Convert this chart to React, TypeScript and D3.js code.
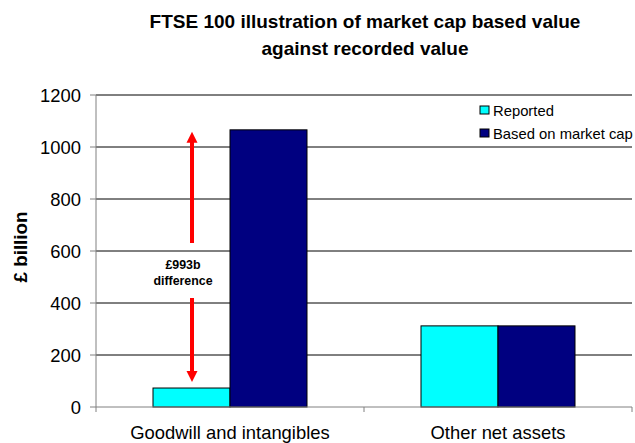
import React from "react";
import * as d3 from "d3";

const categories = ["Goodwill and intangibles", "Other net assets"];
const seriesNames = ["Reported", "Based on market cap"];
const reported = [73, 312];
const marketCap = [1066, 312];
const yTicks = [0, 200, 400, 600, 800, 1000, 1200];
const titleLines = ["FTSE 100 illustration of market cap based value", "against recorded value"];
const annotationLines = ["£993b", "difference"];
const colors = ["#00FFFF", "#000080"];

const W = 635;
const H = 443;
const margin = { left: 96, right: 3, top: 95, bottom: 36 };

export default function App() {
  const x0 = margin.left;
  const x1 = W - margin.right;
  const y0 = H - margin.bottom;
  const yScale = d3.scaleLinear().domain([0, 1200]).range([y0, margin.top]);
  const xBand = d3.scaleBand<string>().domain(categories).range([x0, x1]).padding(0);
  const barW = 77;
  const series = [reported, marketCap];
  const font = "Arial, 'Liberation Sans', sans-serif";

  const arrowX = 192;
  const topTip = yScale(marketCap[0]) + 2;
  const botTip = yScale(reported[0]) - 6;
  const head = 11;

  return (
    <svg width={W} height={H} style={{ position: "absolute", left: 0, top: 0, background: "#fff" }} fontFamily={font}>
      <rect x={0} y={0} width={W} height={H} fill="#fff" />
      {/* title */}
      {titleLines.map((t, i) => (
        <text key={i} x={365} y={28 + i * 27} textAnchor="middle" fontWeight="bold" fontSize={19} fill="#000">
          {t}
        </text>
      ))}
      {/* gridlines */}
      {yTicks.filter((t) => t > 0).map((t) => (
        <line key={t} x1={x0} x2={x1} y1={yScale(t)} y2={yScale(t)} stroke="#000" strokeWidth={1} />
      ))}
      {/* y axis */}
      <line x1={x0} x2={x0} y1={margin.top} y2={y0} stroke="#808080" />
      {yTicks.map((t) => (
        <g key={t}>
          <line x1={x0 - 6} x2={x0} y1={yScale(t)} y2={yScale(t)} stroke="#808080" />
          <text x={x0 - 15} y={yScale(t) + 6.5} textAnchor="end" fontSize={18.4} fill="#000">
            {t}
          </text>
        </g>
      ))}
      <text
        transform={`translate(27, ${(margin.top + y0) / 2 - 4}) rotate(-90)`}
        textAnchor="middle"
        fontWeight="bold"
        fontSize={18.8}
        fill="#000"
      >
        £ billion
      </text>
      {/* bars */}
      {categories.map((c, ci) => {
        const cx = (xBand(c) as number) + xBand.bandwidth() / 2;
        return series.map((s, si) => (
          <rect
            key={c + si}
            x={cx - barW + si * barW}
            y={yScale(s[ci])}
            width={barW}
            height={y0 - yScale(s[ci])}
            fill={colors[si]}
            stroke="#000"
            strokeWidth={1}
          />
        ));
      })}
      {/* x axis */}
      <line x1={x0} x2={x1} y1={y0} y2={y0} stroke="#808080" />
      {[x0, x0 + xBand.bandwidth(), x1].map((x, i) => (
        <line key={i} x1={x} x2={x} y1={y0} y2={y0 + 5} stroke="#808080" />
      ))}
      {categories.map((c) => (
        <text key={c} x={(xBand(c) as number) + xBand.bandwidth() / 2} y={y0 + 32} textAnchor="middle" fontSize={18.4} fill="#000">
          {c}
        </text>
      ))}
      {/* arrows */}
      <line x1={arrowX} x2={arrowX} y1={243} y2={topTip + head - 1} stroke="#FF0000" strokeWidth={4} />
      <path d={`M${arrowX},${topTip} L${arrowX - head / 2},${topTip + head} L${arrowX + head / 2},${topTip + head} Z`} fill="#FF0000" />
      <line x1={arrowX} x2={arrowX} y1={298} y2={botTip - head + 1} stroke="#FF0000" strokeWidth={4} />
      <path d={`M${arrowX},${botTip} L${arrowX - head / 2},${botTip - head} L${arrowX + head / 2},${botTip - head} Z`} fill="#FF0000" />
      {annotationLines.map((t, i) => (
        <text key={i} x={183} y={269 + i * 16} textAnchor="middle" fontWeight="bold" fontSize={12.4} fill="#000">
          {t}
        </text>
      ))}
      {/* legend */}
      {seriesNames.map((n, i) => (
        <g key={n}>
          <rect x={480} y={106 + i * 23} width={9} height={8} fill={colors[i]} stroke="#000" strokeWidth={1} />
          <text x={493} y={115.5 + i * 23} fontSize={14.8} fill="#000">
            {n}
          </text>
        </g>
      ))}
    </svg>
  );
}
